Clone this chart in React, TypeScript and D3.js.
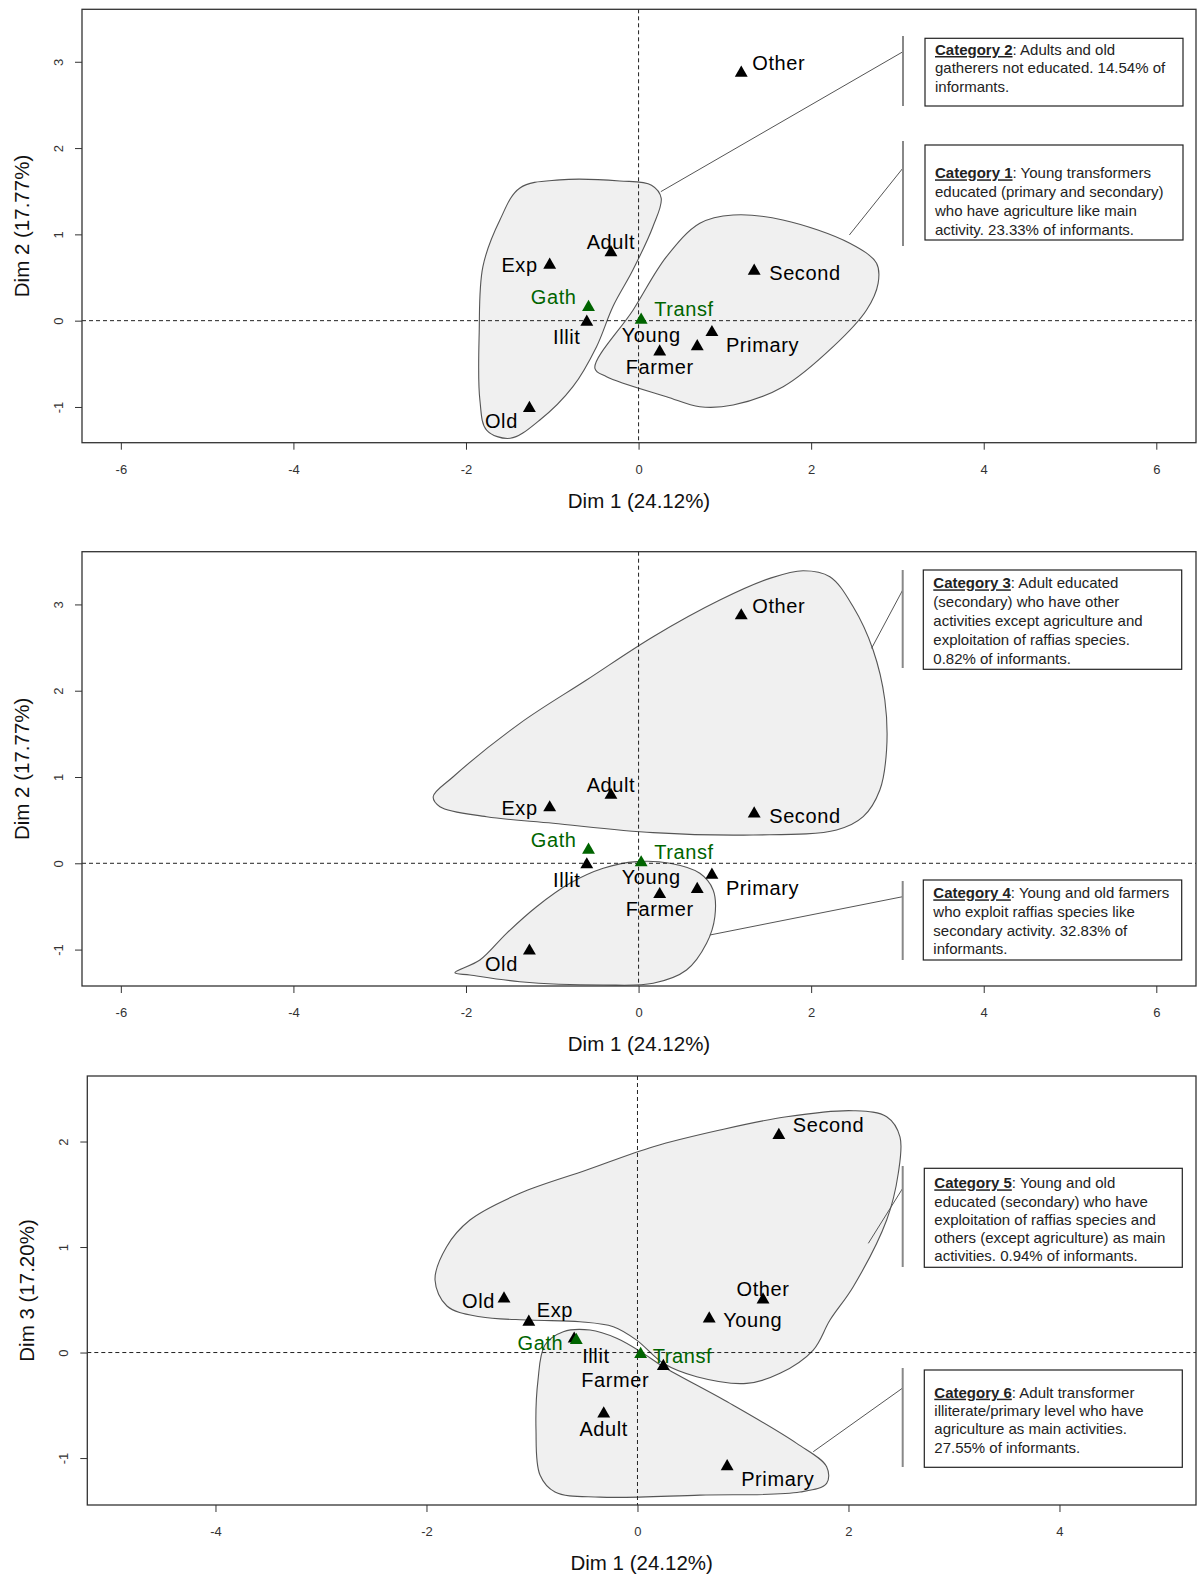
import React, { useEffect, useRef } from 'react'
import * as d3 from 'd3'

const FONT = '"Liberation Sans", Arial, Helvetica, sans-serif'

// MCA coordinates of the modalities
const NAMES = ['Exp', 'Adult', 'Old', 'Young', 'Illit', 'Primary', 'Second', 'Farmer', 'Other', 'Gath', 'Transf']
const DIM1 = [-1.03, -0.32, -1.265, 0.68, -0.6, 0.85, 1.34, 0.245, 1.19, -0.58, 0.03]
const DIM2 = [0.645, 0.79, -1.015, -0.3, -0.015, -0.135, 0.575, -0.36, 2.87, 0.155, 0.008]
const DIM3 = [0.29, -0.58, 0.51, 0.32, 0.13, -1.08, 2.06, -0.13, 0.5, 0.117, -0.016]
const SUPPLEMENTARY = ['Gath', 'Transf']

const TICKS_X_12 = [-6, -4, -2, 0, 2, 4, 6]
const TICKS_Y_12 = [-1, 0, 1, 2, 3]
const TICKS_X_13 = [-4, -2, 0, 2, 4]
const TICKS_Y_13 = [-1, 0, 1, 2]

// group outlines, in dimension units
const HULL_CAT1 = [[-0.506, -0.552], [-0.063, 0.124], [0.324, 0.742], [0.71, 1.129], [1.096, 1.225], [1.672, 1.167], [2.448, 0.897], [2.758, 0.665], [2.776, 0.433], [2.642, 0.124], [2.255, -0.301], [1.676, -0.765], [1.096, -0.977], [0.71, -0.997], [0.324, -0.881], [-0.371, -0.649]]
const HULL_CAT2 = [[-1.375, 1.538], [-0.912, 1.631], [-0.217, 1.619], [0.15, 1.57], [0.262, 1.42], [0.166, 1.089], [-0.066, 0.587], [-0.298, 0.162], [-0.487, -0.301], [-0.761, -0.765], [-1.144, -1.151], [-1.488, -1.363], [-1.761, -1.267], [-1.839, -0.919], [-1.847, -0.143], [-1.804, 0.626], [-1.607, 1.167]]
const HULL_CAT3 = [[-2.38, 0.772], [-2.148, 1.003], [-1.375, 1.622], [-0.603, 2.124], [0.169, 2.626], [0.942, 3.051], [1.521, 3.302], [1.907, 3.391], [2.217, 3.321], [2.487, 2.973], [2.718, 2.472], [2.854, 1.892], [2.874, 1.313], [2.796, 0.849], [2.603, 0.54], [2.294, 0.386], [1.328, 0.328], [0.169, 0.355], [-0.99, 0.464], [-1.761, 0.54], [-2.302, 0.656]]
const HULL_CAT4 = [[-2.129, -1.268], [-1.839, -1.121], [-1.53, -0.811], [-1.182, -0.503], [-0.796, -0.232], [-0.41, -0.058], [-0.023, 0.019], [0.363, 0.0], [0.71, -0.116], [0.864, -0.309], [0.884, -0.619], [0.788, -0.927], [0.556, -1.236], [0.169, -1.39], [-0.41, -1.41], [-1.375, -1.372], [-1.955, -1.294]]
const HULL_CAT5 = [[-1.919, 0.687], [-1.809, 1.003], [-1.588, 1.256], [-1.114, 1.509], [-0.482, 1.73], [0.15, 1.951], [0.782, 2.109], [1.414, 2.235], [2.045, 2.292], [2.362, 2.235], [2.488, 2.045], [2.472, 1.699], [2.362, 1.256], [2.045, 0.624], [1.825, 0.308], [1.666, 0.024], [1.351, -0.197], [1.035, -0.292], [0.561, -0.229], [0.245, -0.102], [-0.008, 0.118], [-0.229, 0.245], [-0.545, 0.292], [-1.019, 0.308], [-1.493, 0.339], [-1.806, 0.441]]
const HULL_CAT6 = [[-0.703, 0.197], [-0.45, 0.213], [-0.197, 0.135], [0.055, -0.008], [0.245, -0.135], [0.877, -0.482], [1.509, -0.861], [1.793, -1.082], [1.793, -1.24], [1.54, -1.322], [0.592, -1.351], [-0.355, -1.37], [-0.782, -1.322], [-0.924, -1.161], [-0.962, -0.735], [-0.943, -0.261], [-0.877, 0.071]]

// where each leader line leaves its outline
const LEADER_CAT1 = [2.443, 0.993]
const LEADER_CAT2 = [0.258, 1.495]
const LEADER_CAT3 = [2.7, 2.491]
const LEADER_CAT4 = [0.826, -0.831]
const LEADER_CAT5 = [2.188, 1.035]
const LEADER_CAT6 = [1.666, -0.94]

const CAT1_LINES = [': Young transformers', 'educated (primary and secondary)', 'who have agriculture like main', 'activity. 23.33% of informants.']
const CAT2_LINES = [': Adults and old', 'gatherers not educated. 14.54% of', 'informants.']
const CAT3_LINES = [': Adult educated', '(secondary) who have other', 'activities except agriculture and', 'exploitation of raffias species.', '0.82% of informants.']
const CAT4_LINES = [': Young and old farmers', 'who exploit raffias species like', 'secondary activity. 32.83% of', 'informants.']
const CAT5_LINES = [': Young and old', 'educated (secondary) who have', 'exploitation of raffias species and', 'others (except agriculture) as main', 'activities. 0.94% of informants.']
const CAT6_LINES = [': Adult transformer', 'illiterate/primary level who have', 'agriculture as main activities.', '27.55% of informants.']

// label placement around each point: [dx, dy, anchor]
const LABELS_12 = {
  Other: [11, -10, 'start'], Adult: [0, -10, 'middle'], Exp: [-12, 0, 'end'], Gath: [-12, -10, 'end'],
  Illit: [-20, 15, 'middle'], Transf: [13, -11, 'start'], Young: [-46, -12, 'middle'], Farmer: [0, 15, 'middle'],
  Primary: [14, 13, 'start'], Second: [15, 2, 'start'], Old: [-28, 13, 'middle'],
}
const LABELS_13 = {
  Old: [-9, 2, 'end'], Exp: [8, -12, 'start'], Gath: [-13, 3, 'end'], Illit: [8, 17, 'start'],
  Transf: [12, 2, 'start'], Farmer: [-48, 14, 'middle'], Adult: [0, 15, 'middle'], Young: [14, 1, 'start'],
  Other: [0, -11, 'middle'], Primary: [14, 13, 'start'], Second: [14, -10, 'start'],
}

const GREEN = '#006400'

const PANELS = [
  {
    frame: { left: 82, right: 1196, top: 9.3, bottom: 442.7 },
    xDomain: [-6.45, 6.46], yDomain: [-1.414, 3.608],
    xTicks: TICKS_X_12, yTicks: TICKS_Y_12,
    ys: DIM2, yTitle: 'Dim 2 (17.77%)', labels: LABELS_12,
    cats: [
      { hull: HULL_CAT2, leader: LEADER_CAT2, title: 'Category 2', lines: CAT2_LINES, box: [925, 38.3, 258, 67.7], base: 55, step: 18.3, bar: [903, 36, 106], end: [903, 51.7] },
      { hull: HULL_CAT1, leader: LEADER_CAT1, title: 'Category 1', lines: CAT1_LINES, box: [925, 145, 258, 95], base: 178.3, step: 19, bar: [903, 141, 246], end: [903, 168] },
    ],
  },
  {
    frame: { left: 82, right: 1196, top: 551.7, bottom: 986 },
    xDomain: [-6.45, 6.46], yDomain: [-1.422, 3.611],
    xTicks: TICKS_X_12, yTicks: TICKS_Y_12,
    ys: DIM2, yTitle: 'Dim 2 (17.77%)', labels: LABELS_12,
    cats: [
      { hull: HULL_CAT3, leader: LEADER_CAT3, title: 'Category 3', lines: CAT3_LINES, box: [923.3, 570, 258.4, 99.3], base: 588.3, step: 18.8, bar: [902.7, 570, 668], end: [902.7, 590] },
      { hull: HULL_CAT4, leader: LEADER_CAT4, title: 'Category 4', lines: CAT4_LINES, box: [923.3, 880, 258.4, 80], base: 898.3, step: 18.7, bar: [902.7, 881, 960], end: [902.7, 896.7] },
    ],
  },
  {
    frame: { left: 87.3, right: 1196, top: 1076, bottom: 1505 },
    xDomain: [-5.215, 5.294], yDomain: [-1.445, 2.621],
    xTicks: TICKS_X_13, yTicks: TICKS_Y_13,
    ys: DIM3, yTitle: 'Dim 3 (17.20%)', labels: LABELS_13,
    cats: [
      { hull: HULL_CAT5, leader: LEADER_CAT5, title: 'Category 5', lines: CAT5_LINES, box: [924.3, 1168.3, 258, 99], base: 1188.3, step: 18.2, bar: [902.7, 1166, 1267], end: [902.7, 1188.3] },
      { hull: HULL_CAT6, leader: LEADER_CAT6, title: 'Category 6', lines: CAT6_LINES, box: [924.3, 1370, 258, 97.3], base: 1397.7, step: 18.3, bar: [902.7, 1368, 1467], end: [902.7, 1388] },
    ],
  },
]

function Panel({ cfg }) {
  const xAxisRef = useRef(null)
  const yAxisRef = useRef(null)
  const { frame } = cfg
  const x = d3.scaleLinear().domain(cfg.xDomain).range([frame.left, frame.right])
  const y = d3.scaleLinear().domain(cfg.yDomain).range([frame.bottom, frame.top])

  useEffect(() => {
    const gx = d3.select(xAxisRef.current)
    gx.call(d3.axisBottom(x).tickValues(cfg.xTicks).tickSize(7).tickPadding(15).tickFormat(d => String(d)))
    gx.attr('font-size', 13).attr('font-family', FONT)
    gx.select('.domain').remove()
    gx.selectAll('.tick line').attr('stroke', '#333')
    gx.selectAll('.tick text').attr('fill', '#333')

    const gy = d3.select(yAxisRef.current)
    gy.call(d3.axisLeft(y).tickValues(cfg.yTicks).tickSize(7).tickFormat(d => String(d)))
    gy.attr('font-size', 13).attr('font-family', FONT)
    gy.select('.domain').remove()
    gy.selectAll('.tick line').attr('stroke', '#333')
    gy.selectAll('.tick text')
      .attr('fill', '#333')
      .attr('x', 0).attr('dy', 0)
      .attr('text-anchor', 'middle')
      .attr('transform', 'translate(-19,0) rotate(-90)')
  })

  const hullLine = d3.line()
    .x(d => x(d[0]))
    .y(d => y(d[1]))
    .curve(d3.curveCatmullRomClosed.alpha(0.5))

  const tri = d3.symbol(d3.symbolTriangle, 72)()
  const points = NAMES.map((name, i) => ({ name, x: DIM1[i], y: cfg.ys[i], sup: SUPPLEMENTARY.includes(name) }))
  const ordered = points.filter(p => !p.sup).concat(points.filter(p => p.sup))
  const midX = (frame.left + frame.right) / 2
  const midY = (frame.top + frame.bottom) / 2

  return (
    <g>
      {cfg.cats.map((c, i) => (
        <path key={'h' + i} d={hullLine(c.hull)} fill="#f0f0f0" stroke="#555" strokeWidth={1.1} />
      ))}
      <line x1={frame.left} x2={frame.right} y1={y(0)} y2={y(0)} stroke="#222" strokeDasharray="4,3" />
      <line x1={x(0)} x2={x(0)} y1={frame.top} y2={frame.bottom} stroke="#222" strokeDasharray="4,3" />
      <rect x={frame.left} y={frame.top} width={frame.right - frame.left} height={frame.bottom - frame.top}
        fill="none" stroke="#333" strokeWidth={1.3} />
      <g ref={xAxisRef} transform={`translate(0,${frame.bottom})`} />
      <g ref={yAxisRef} transform={`translate(${frame.left},0)`} />

      {ordered.map(p => (
        <path key={'p' + p.name} d={tri} transform={`translate(${x(p.x)},${y(p.y)})`} fill={p.sup ? GREEN : '#000'} />
      ))}
      {ordered.map(p => {
        const [dx, dy, anchor] = cfg.labels[p.name]
        return (
          <text key={'l' + p.name} x={x(p.x) + dx} y={y(p.y) + dy + 7} textAnchor={anchor}
            fontSize={20} letterSpacing={0.6} fontFamily={FONT} fill={p.sup ? GREEN : '#000'}>{p.name}</text>
        )
      })}

      <text x={midX} y={frame.bottom + 65} textAnchor="middle" fontSize={20.5} fontFamily={FONT} fill="#111">Dim 1 (24.12%)</text>
      <text transform={`translate(${frame.left - 53.5},${midY}) rotate(-90)`} textAnchor="middle" fontSize={20.5}
        fontFamily={FONT} fill="#111">{cfg.yTitle}</text>

      {cfg.cats.map((c, i) => {
        const [bx, by, bw, bh] = c.box
        return (
          <g key={'c' + i}>
            <line x1={x(c.leader[0])} y1={y(c.leader[1])} x2={c.end[0]} y2={c.end[1]} stroke="#555" strokeWidth={1} />
            <line x1={c.bar[0]} x2={c.bar[0]} y1={c.bar[1]} y2={c.bar[2]} stroke="#888" strokeWidth={2} />
            <rect x={bx} y={by} width={bw} height={bh} fill="#fff" stroke="#222" strokeWidth={1.2} />
            {c.lines.map((ln, j) => (
              <text key={j} x={bx + 10} y={c.base + j * c.step} fontSize={15} fontFamily={FONT} fill="#222">
                {j === 0 && <tspan fontWeight="bold" textDecoration="underline">{c.title}</tspan>}
                <tspan>{ln}</tspan>
              </text>
            ))}
          </g>
        )
      })}
    </g>
  )
}

export default function App() {
  return (
    <svg width={1198} height={1575} style={{ position: 'absolute', left: 0, top: 0, background: '#fff' }}>
      <rect width={1198} height={1575} fill="#fff" />
      {PANELS.map((p, i) => <Panel key={i} cfg={p} />)}
    </svg>
  )
}
